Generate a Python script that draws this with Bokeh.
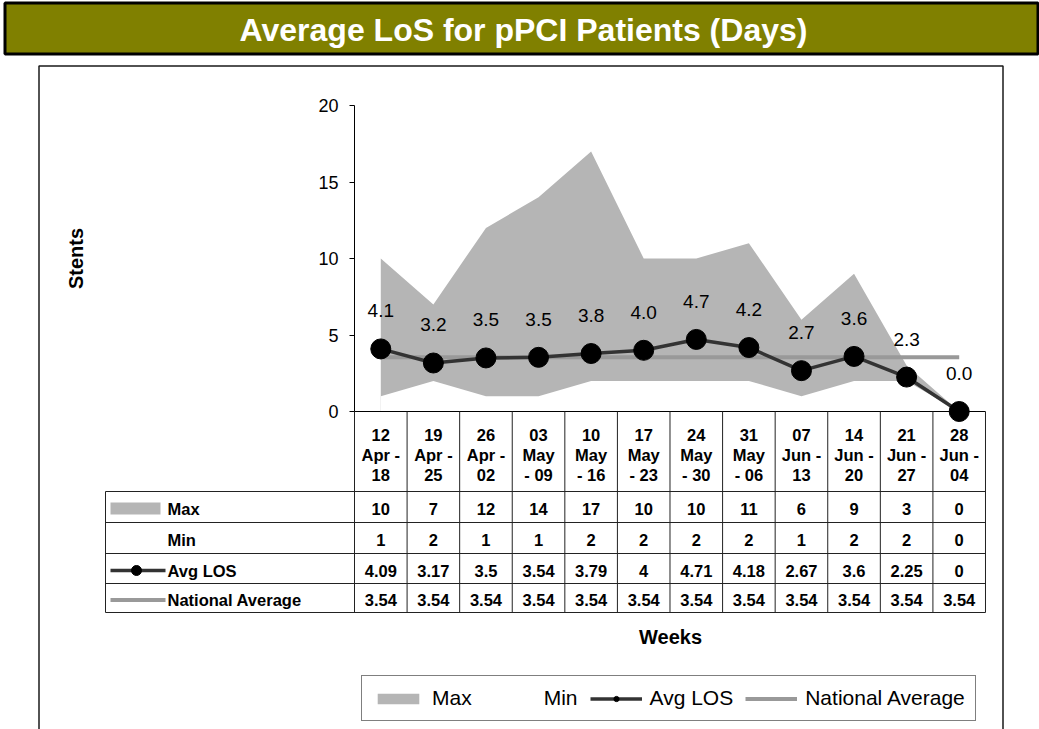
import math
from bokeh.plotting import figure
from bokeh.models import (Range1d, LinearAxis, FixedTicker, Legend, LegendItem,
                          ColumnDataSource)
from bokeh.core.properties import value
from bokeh.embed import file_html
from bokeh.resources import INLINE

# ---------------- data ----------------
title_text = "Average LoS for pPCI Patients (Days)"
week_labels = ["12\nApr -\n18", "19\nApr -\n25", "26\nApr -\n02", "03\nMay\n- 09",
               "10\nMay\n- 16", "17\nMay\n- 23", "24\nMay\n- 30", "31\nMay\n- 06",
               "07\nJun -\n13", "14\nJun -\n20", "21\nJun -\n27", "28\nJun -\n04"]
max_vals = [10, 7, 12, 14, 17, 10, 10, 11, 6, 9, 3, 0]
min_vals = [1, 2, 1, 1, 2, 2, 2, 2, 1, 2, 2, 0]
avg_los = [4.09, 3.17, 3.5, 3.54, 3.79, 4, 4.71, 4.18, 2.67, 3.6, 2.25, 0]
national_avg = [3.54, 3.54, 3.54, 3.54, 3.54, 3.54, 3.54, 3.54, 3.54, 3.54, 3.54, 3.54]
y_ticks = [0, 5, 10, 15, 20]
series_names = ["Max", "Min", "Avg LOS", "National Average"]
y_label = "Stents"
x_label = "Weeks"

# ---------------- layout helpers (page pixels -> data) ----------------
X0_PX, COL_PX = 354.0, 52.583
Y0_PX, UNIT_PX = 411.0, 15.3
W, H = 1039, 729


def px2x(px):
    return -0.5 + (px - X0_PX) / COL_PX


def px2y(py):
    return (Y0_PX - py) / UNIT_PX


FONT = value("Liberation Sans")
n = len(week_labels)
idx = list(range(n))

p = figure(width=W, height=H,
           x_range=Range1d(px2x(0), px2x(W)),
           y_range=Range1d(px2y(H), px2y(0)),
           x_axis_type=None, y_axis_type=None,
           toolbar_location=None, output_backend="svg",
           min_border=0, outline_line_color=None,
           background_fill_color="white", border_fill_color="white")

# title bar
p.quad(left=[px2x(4.5)], right=[px2x(1037.5)], top=[px2y(2.5)], bottom=[px2y(53.5)],
       fill_color="#808000", line_color="black", line_width=3)
p.text(x=[px2x(523)], y=[px2y(29)], text=[title_text], text_color="white",
       text_font=FONT, text_font_style="bold", text_font_size="32px",
       text_align="center", text_baseline="middle")

# chart box
p.quad(left=[px2x(38.5)], right=[px2x(1002.5)], top=[px2y(65.5)], bottom=[px2y(760)],
       fill_color=None, line_color="#1a1a1a", line_width=1.5)

src = ColumnDataSource(dict(x=idx, mx=max_vals, mn=min_vals, avg=avg_los, nat=national_avg,
                            zero=[0] * n))

max_area = p.varea(x="x", y1="zero", y2="mx", source=src, fill_color="#b5b5b5")
min_area = p.varea(x="x", y1="zero", y2="mn", source=src, fill_color="white")
nat_line = p.line(x="x", y="nat", source=src, line_color="#999999", line_width=4)
avg_line = p.line(x="x", y="avg", source=src, line_color="#333333", line_width=3.5,
                  line_join="round")
avg_pts = p.scatter(x="x", y="avg", source=src, size=20, fill_color="black",
                    line_color="black")


def fmt1(v):
    return "%.1f" % (math.floor(v * 10 + 0.5) / 10)


p.text(x=idx, y=avg_los, text=[fmt1(v) for v in avg_los], y_offset=-38,
       text_font=FONT, text_font_size="19px", text_color="black",
       text_align="center", text_baseline="middle")

# y axis
yax = LinearAxis(fixed_location=-0.5, bounds=(0, 20), ticker=FixedTicker(ticks=y_ticks),
                 axis_label=y_label, axis_label_standoff=228,
                 axis_label_text_font="Liberation Sans", axis_label_text_font_style="bold",
                 axis_label_text_font_size="20px", axis_label_text_color="black",
                 major_label_text_font="Liberation Sans", major_label_text_font_size="18px",
                 major_label_text_color="black",
                 major_label_standoff=11, major_tick_out=5, major_tick_in=0,
                 minor_tick_out=0, minor_tick_in=0, axis_line_color="black",
                 major_tick_line_color="black")
p.add_layout(yax, "left")

# ---------------- data table ----------------
grid_color = "#222222"
row_lines = [491, 522, 553, 583, 612]
# x axis / table top
p.segment(x0=[-0.5], y0=[0], x1=[n - 0.5], y1=[0], line_color="black", line_width=1)
# column separators
p.segment(x0=[k - 0.5 for k in range(n + 1)], y0=[0] * (n + 1),
          x1=[k - 0.5 for k in range(n + 1)], y1=[px2y(612)] * (n + 1),
          line_color=grid_color, line_width=1)
# row lines
p.segment(x0=[px2x(105)] * len(row_lines), y0=[px2y(r) for r in row_lines],
          x1=[n - 0.5] * len(row_lines), y1=[px2y(r) for r in row_lines],
          line_color=grid_color, line_width=1)
p.segment(x0=[px2x(105)], y0=[px2y(491)], x1=[px2x(105)], y1=[px2y(612)],
          line_color=grid_color, line_width=1)

TBL = dict(text_font=FONT, text_font_style="bold", text_font_size="16.5px",
           text_color="black", text_baseline="middle")
for j, py in enumerate([434, 454.5, 474]):
    p.text(x=idx, y=[px2y(py)] * n, text=[w.split("\n")[j] for w in week_labels],
           text_align="center", **TBL)

row_centers = [508.5, 539.5, 570, 599.5]
row_texts = [[str(v) for v in max_vals], [str(v) for v in min_vals],
             ["%g" % v for v in avg_los], ["%g" % v for v in national_avg]]
for rc, txts, name in zip(row_centers, row_texts, series_names):
    p.text(x=idx, y=[px2y(rc)] * n, text=txts, text_align="center", **TBL)
    p.text(x=[px2x(167)], y=[px2y(rc)], text=[name], text_align="left", **TBL)

# row keys
p.quad(left=[px2x(110)], right=[px2x(160)], top=[px2y(502)], bottom=[px2y(514)],
       fill_color="#b5b5b5", line_color=None)
p.line(x=[px2x(110), px2x(165)], y=[px2y(570), px2y(570)], line_color="#333333",
       line_width=3.5)
p.scatter(x=[px2x(136)], y=[px2y(570)], size=10, fill_color="black", line_color="black")
p.line(x=[px2x(110), px2x(165)], y=[px2y(599.5), px2y(599.5)], line_color="#999999",
       line_width=4)

# x label
p.text(x=[px2x(670)], y=[px2y(636)], text=[x_label], text_font=FONT,
       text_font_style="bold", text_font_size="20px", text_align="center",
       text_baseline="middle")

# legend
legend = Legend(items=[LegendItem(label=series_names[0], renderers=[max_area]),
                       LegendItem(label=series_names[1], renderers=[min_area]),
                       LegendItem(label=series_names[2], renderers=[avg_line, avg_pts]),
                       LegendItem(label=series_names[3], renderers=[nat_line])],
                orientation="horizontal", location=(361, 8), margin=0, padding=10,
                spacing=12, glyph_width=52, glyph_height=13, label_standoff=8,
                label_width=0, label_height=20,
                label_text_font="Liberation Sans", label_text_font_size="21px",
                label_text_color="black",
                border_line_color="black", border_line_width=1,
                background_fill_color="white", background_fill_alpha=1)
p.add_layout(legend)

open("out.html", "w").write(file_html(p, INLINE))
